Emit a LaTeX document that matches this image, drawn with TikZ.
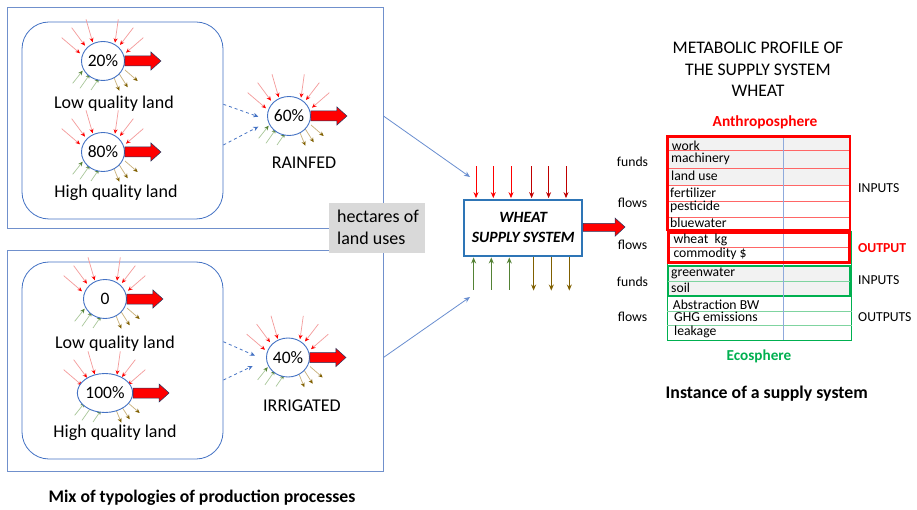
\documentclass[tikz,border=0pt]{standalone}
\usepackage{fontspec}
\setmainfont{Carlito}
\usetikzlibrary{shapes.geometric,arrows.meta,calc}

\definecolor{frameblue}{HTML}{7090CC}
\definecolor{procblue}{HTML}{4472C4}
\definecolor{boxblue}{HTML}{2E75B6}
\definecolor{inred}{HTML}{FF0000}
\definecolor{inredl}{HTML}{F49A9A}
\definecolor{darkred}{HTML}{C00000}
\definecolor{ingreen}{HTML}{548235}
\definecolor{ingreenl}{HTML}{A9C79A}
\definecolor{outbrown}{HTML}{806000}
\definecolor{outbrownl}{HTML}{C8B07A}
\definecolor{ecogreen}{HTML}{00B050}
\definecolor{ecogreenl}{HTML}{7FD4A0}
\definecolor{fundgray}{HTML}{F2F2F2}
\definecolor{notegray}{HTML}{D9D9D9}
\definecolor{rowred}{HTML}{FF6666}
\definecolor{divblue}{HTML}{8FAADC}

\tikzset{
  % small flow arrows around a process
  rin/.style={draw=inredl, line width=0.7pt, -{Stealth[length=4.5pt,width=4pt,color=inred]}},
  gin/.style={draw=ingreenl, line width=0.7pt, -{Stealth[length=4.5pt,width=4pt,color=ingreen]}},
  bout/.style={draw=outbrownl, line width=0.7pt, -{Stealth[length=4.5pt,width=4pt,color=outbrown]}},
  proc/.style={ellipse, draw=procblue, line width=0.9pt, fill=white, minimum width=43pt,
    minimum height=39pt, inner sep=0pt, font=\fontsize{17.5}{20}\selectfont},
  frame/.style={draw=frameblue, line width=0.9pt, inner sep=0pt},
  mixbox/.style={draw=procblue, line width=0.8pt, rounded corners=27pt, inner sep=0pt,
    minimum width=201pt, minimum height=197pt},
  biglabel/.style={font=\fontsize{18}{20}\selectfont, inner sep=0pt},
  mixlink/.style={draw=procblue, dashed, line width=0.8pt, -{Stealth[length=5pt,width=4.5pt]}},
  syslink/.style={draw=procblue!80, line width=0.8pt, -{Stealth[length=6pt,width=5pt]}},
  tabtext/.style={font=\fontsize{13.7}{15}\selectfont, anchor=west, inner sep=0pt},
  sidetext/.style={font=\fontsize{13.7}{15}\selectfont, inner sep=0pt},
  fatfill/.style={fill=red, draw=procblue!50!black, line width=0.5pt},
  flowfan/.pic={
    \draw[rin] (-41.3,-23.3) -- (-23,-7.7);
    \draw[rin] (-31.3,-33.3) -- (-18,-15.3);
    \draw[rin] (-17,-41.7) -- (-10.3,-18.7);
    \draw[rin] (15.3,-41.7) -- (12,-18.3);
    \draw[rin] (30.3,-33.3) -- (17,-16);
    \draw[rin] (40.3,-23.3) -- (23,-8.3);
    \draw[gin] (-30.3,22.3) -- (-20.3,9.7);
    \draw[gin] (-23,27.3) -- (-13,13);
    \draw[gin] (-12,29) -- (-4,17.3);
    \draw[bout] (10.3,15) -- (16.3,29.7);
    \draw[bout] (16.3,13) -- (24.7,26.3);
    \draw[bout] (22,9) -- (34.7,20);
  },
  fatarrow/.pic={
    \draw[fatfill] (0,-5) -- (26,-5) -- (26,-9) -- (36,0) -- (26,9) -- (26,5) -- (0,5) -- cycle;
  }
}

\begin{document}
\begin{tikzpicture}[x=1pt,y=-1pt]
\useasboundingbox[fill=white] (0,0) rectangle (917,510);

% ---------- left: typologies of production processes ----------
\node[frame, minimum width=376pt, minimum height=221pt] (rainframe) at (195,117.5) {};
\node[frame, minimum width=376pt, minimum height=221pt] (irrframe) at (195,360.5) {};

\node[mixbox] (rainmix) at (122.5,120.5) {};
\node[mixbox] (irrmix) at (122.5,360.5) {};

% rainfed group
\pic at (103,61) {flowfan};
\node[proc] (p20) at (103,61) {20\%};
\pic at (p20.east) {fatarrow};
\node[biglabel] (lowA) at (114,104) {Low quality land};

\pic at (103,152) {flowfan};
\node[proc] (p80) at (103,152) {80\%};
\pic at (p80.east) {fatarrow};
\node[biglabel] (highA) at (116,193) {High quality land};

\pic at (289,116) {flowfan};
\node[proc] (p60) at (289,116) {60\%};
\pic at (p60.east) {fatarrow};
\node[biglabel] (rainfed) at (304,163) {RAINFED};

% irrigated group
\pic at (105,299) {flowfan};
\node[proc] (p0) at (105,299) {0};
\pic at (p0.east) {fatarrow};
\node[biglabel] (lowB) at (115,344) {Low quality land};

\pic at (105,393) {flowfan};
\node[proc] (p100) at (105,393) {100\%};
\pic at (p100.east) {fatarrow};
\node[biglabel] (highB) at (115,433) {High quality land};

\pic at (288,357.5) {flowfan};
\node[proc] (p40) at (288,357.5) {40\%};
\pic at (p40.east) {fatarrow};
\node[biglabel] (irrigated) at (302,406) {IRRIGATED};

% dashed links from the land-quality mixes
\coordinate (rmA) at (258.3,116.7);
\coordinate (rmB) at (258.3,126.7);
\coordinate (imA) at (255,355.7);
\coordinate (imB) at (252.7,366);
\draw[mixlink] ($(rainmix.east)+(0,-16.2)$) -- (rmA);
\draw[mixlink] ($(rainmix.east)+(0,24.5)$) -- (rmB);
\draw[mixlink] ($(irrmix.east)+(0,-18.8)$) -- (imA);
\draw[mixlink] ($(irrmix.east)+(0,19.5)$) -- (imB);

% hectares note
\node[fill=notegray, minimum width=96pt, minimum height=50pt, inner sep=0pt] (note) at (377,228) {};
\node[biglabel, align=left, anchor=west, font=\fontsize{18}{21.6}\selectfont] (notetext) at (337,227.5) {hectares of\\land uses};

\node[font=\bfseries\fontsize{17.7}{19}\selectfont] (mixtitle) at (202,498) {Mix of typologies of production processes};

% ---------- centre: the supply system ----------
\node[draw=boxblue, line width=1.8pt, fill=white, minimum width=118pt, minimum height=55.7pt,
  inner sep=0pt, align=center, font=\bfseries\itshape\fontsize{15.7}{20}\selectfont]
  (wheat) at (523.2,227.8) {WHEAT\\SUPPLY SYSTEM};

\coordinate (sysinA) at (470,177);
\coordinate (sysinB) at (470,297);
\draw[syslink] (rainframe.east |- p60) -- (sysinA);
\draw[syslink] (irrframe.east |- p40) -- (sysinB);

\foreach \dx/\c in {12.7/inred,30/inred,47.7/inred,68.3/darkred,85.3/darkred,102.7/darkred}
  \draw[draw=\c, line width=1pt, -{Stealth[length=6pt,width=5pt]}, shorten >=0.9pt]
    ($(wheat.north west)+(\dx,-33)$) -- ($(wheat.north west)+(\dx,0)$);
\foreach \dx in {10.3,28,46}
  \draw[draw=ingreen, line width=1pt, -{Stealth[length=6pt,width=5pt]}, shorten >=0.9pt]
    ($(wheat.south west)+(\dx,33)$) -- ($(wheat.south west)+(\dx,0)$);
\foreach \dx in {70.3,88,106}
  \draw[draw=outbrown, line width=1pt, -{Stealth[length=6pt,width=5pt]}, shorten <=0.9pt]
    ($(wheat.south west)+(\dx,0)$) -- ($(wheat.south west)+(\dx,34)$);

\draw[fatfill] (wheat.east |- 0,223.3) -- (615,223.3) -- (615,218) -- (625,227) -- (615,236.3)
  -- (615,231.5) -- (wheat.east |- 0,231.5) -- cycle;

% ---------- right: metabolic profile ----------
\node[font=\fontsize{17.7}{21.5}\selectfont, align=center] (proftitle) at (758,69.5)
  {METABOLIC PROFILE OF\\THE SUPPLY SYSTEM\\WHEAT};
\node[font=\bfseries\fontsize{15.4}{17}\selectfont, text=inred] (anthro) at (765,122.7) {Anthroposphere};

% anthroposphere block
\fill[fundgray] (667.3,136.7) rectangle (850,185);
\foreach \y in {150.7,168.3,185,201,217.3}
  \draw[rowred, line width=0.6pt] (667.3,\y) -- (850,\y);

% ecosphere block
\draw[ecogreen, line width=1pt] (667.3,232) rectangle (851.7,340);
\foreach \y in {311,325.7}
  \draw[ecogreenl, line width=0.6pt] (667.3,\y) -- (851.7,\y);
\filldraw[fill=fundgray, draw=ecogreen, line width=2.2pt] (668,265.7) rectangle (850,296);
\draw[ecogreenl, line width=0.6pt] (668,281) -- (850,281);

% column divider
\draw[divblue, line width=0.7pt] (783.3,136.7) -- (783.3,340);

% outer red frames
\draw[inred, line width=2.4pt] (667.3,136.7) rectangle (850,230);
\draw[rowred, line width=0.6pt] (668.3,247.3) -- (849.3,247.3);
\draw[inred, line width=2.6pt] (668.3,232.3) rectangle (849.3,262.3);

% row texts
\node[tabtext] (rwork) at (671.7,146) {work};
\node[tabtext] (rmach) at (671,159.3) {machinery};
\node[tabtext] (rland) at (671,176) {land use};
\node[tabtext] (rfert) at (670,192.7) {fertilizer};
\node[tabtext] (rpest) at (670,207.3) {pesticide};
\node[tabtext] (rblue) at (670,222.7) {bluewater};
\node[tabtext] (rwheat) at (673.3,240) {wheat\ \ kg};
\node[tabtext] (rcomm) at (673.3,254.3) {commodity \$};
\node[tabtext] (rgreen) at (671,273.3) {greenwater};
\node[tabtext] (rsoil) at (671,287.3) {soil};
\node[tabtext] (rabs) at (672.7,304.3) {Abstraction BW};
\node[tabtext] (rghg) at (674,317.3) {GHG emissions};
\node[tabtext] (rleak) at (674,332.3) {leakage};

% row group labels
\node[sidetext] (lfundsA) at (632.5,161.7) {funds};
\node[sidetext] (lflowsA) at (632.5,203.3) {flows};
\node[sidetext] (lflowsB) at (632.5,245) {flows};
\node[sidetext] (lfundsB) at (632.5,281.7) {funds};
\node[sidetext] (lflowsC) at (632.5,317.3) {flows};

\node[sidetext, anchor=west] (sinA) at (858,188.3) {INPUTS};
\node[sidetext, anchor=west, text=inred, font=\bfseries\fontsize{13.7}{15}\selectfont] (sout) at (858,248.3) {OUTPUT};
\node[sidetext, anchor=west] (sinB) at (858,280) {INPUTS};
\node[sidetext, anchor=west] (soutB) at (858,317.3) {OUTPUTS};

\node[font=\bfseries\fontsize{15.2}{17}\selectfont, text=ecogreen] (eco) at (759,356.7) {Ecosphere};
\node[font=\bfseries\fontsize{17.8}{19}\selectfont] (insttitle) at (766.7,393.3) {Instance of a supply system};
\end{tikzpicture}
\end{document}
